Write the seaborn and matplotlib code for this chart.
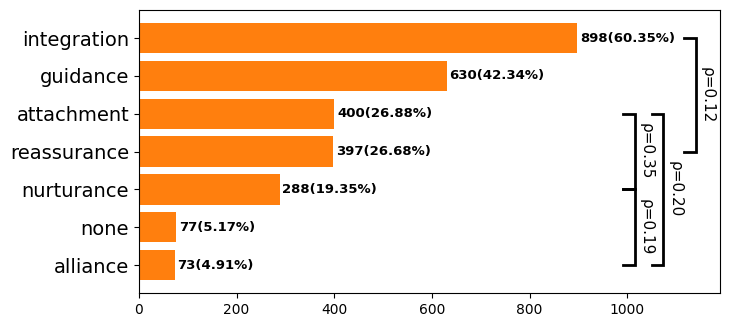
import seaborn as sns
import matplotlib.pyplot as plt
import pandas as pd

categories = ['integration', 'guidance', 'attachment', 'reassurance', 'nurturance', 'none', 'alliance']
counts = [898, 630, 400, 397, 288, 77, 73]
percents = ['60.35%', '42.34%', '26.88%', '26.68%', '19.35%', '5.17%', '4.91%']

# brackets: (top category, bottom category, x position, label)
bracket_top = ['integration', 'attachment', 'nurturance', 'attachment']
bracket_bottom = ['reassurance', 'nurturance', 'alliance', 'alliance']
bracket_x = [1140, 1016, 1016, 1074]
bracket_labels = ['ρ=0.12', 'ρ=0.35', 'ρ=0.19', 'ρ=0.20']

df = pd.DataFrame({'category': categories, 'count': counts})

fig = plt.figure(figsize=(7.31, 3.24), dpi=100)
ax = fig.add_axes([0.19, 0.0957, 0.795, 0.873])
sns.barplot(data=df, y='category', x='count', orient='h', color='#ff7f0e',
            saturation=1, width=0.8, ax=ax)

for i, (c, p) in enumerate(zip(counts, percents)):
    ax.text(c + 6, i, f'{c}({p})', va='center', ha='left', fontsize=9.5, fontweight='bold')

tick_w = 24
for top, bot, x, lab in zip(bracket_top, bracket_bottom, bracket_x, bracket_labels):
    y0 = categories.index(top)
    y1 = categories.index(bot)
    ax.plot([x - tick_w, x, x, x - tick_w], [y0, y0, y1, y1], color='black', lw=2,
            solid_joinstyle='miter')
    ax.text(x + 8, (y0 + y1) / 2, lab, rotation=-90, va='center', ha='left', fontsize=11)

ax.set_xlim(0, 1190)
ax.set_ylim(6.74, -0.74)
ax.set_xlabel('')
ax.set_ylabel('')
ax.tick_params(axis='y', labelsize=14)
ax.tick_params(axis='x', labelsize=10)

fig.savefig('out.png', dpi=100)
